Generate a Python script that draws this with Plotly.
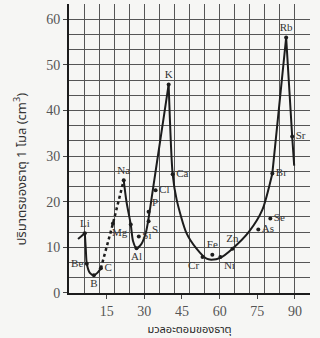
import plotly.graph_objects as go

# --- data (atomic mass, molar volume cm3) ---
tail_x = [3.6, 6.3]
tail_y = [11.8, 13.1]

li_c_x = [6.3, 6.7, 7.1, 8.3, 9.9, 11.3, 12.7]
li_c_y = [13.1, 9.5, 6.4, 4.4, 3.9, 4.4, 5.4]

dot_x = [12.7, 17.5, 21.8]
dot_y = [5.4, 15.2, 24.7]

na_k_x = [21.8, 22.9, 24.6, 25.5, 26.9, 28.8, 30.6, 31.5, 32.3, 33.5, 36.5, 39.7]
na_k_y = [24.7, 20.0, 15.0, 11.4, 9.8, 10.7, 13.2, 15.7, 18.5, 23.0, 34.0, 45.7]

k_br_x = [39.7, 41.3, 42.9, 46.8, 50.8, 54.8, 56.7, 60.3, 65.1, 71.8, 77.0, 81.0]
k_br_y = [45.7, 26.0, 20.4, 13.1, 9.7, 7.5, 7.3, 7.7, 9.7, 13.5, 18.2, 26.2]

br_end_x = [81.0, 86.5, 88.9, 89.7]
br_end_y = [26.2, 56.0, 34.3, 27.9]

el_names = ["Li", "Be", "B", "C", "", "Na", "Mg", "Al", "Si", "P", "S", "Cl", "K", "Ca",
            "Cr", "Fe", "Ni", "Zn", "As", "Se", "Br", "Rb", "Sr"]
el_x = [6.3, 7.1, 9.9, 12.7, 17.5, 21.8, 24.6, 26.9, 27.8, 31.7, 31.7, 34.5, 39.7, 41.3,
        53.2, 57.1, 60.3, 65.1, 75.4, 80.2, 81.0, 86.5, 88.9]
el_y = [13.1, 6.4, 3.9, 5.4, 15.2, 24.7, 15.0, 9.8, 12.4, 17.8, 15.7, 22.5, 45.7, 26.0,
        7.9, 8.4, 7.9, 9.7, 13.9, 16.3, 26.2, 56.0, 34.3]
el_pos = ["top center", "middle left", "bottom center", "middle right", "middle right",
          "top center", "bottom left", "bottom center", "middle right", "top right",
          "bottom right", "middle right", "top center", "middle right",
          "bottom left", "top center", "bottom right", "top center", "middle right",
          "middle right", "middle right", "top center", "middle right"]

x_ticks = [15, 30, 45, 60, 75, 90]
y_ticks = [0, 10, 20, 30, 40, 50, 60]

LINE = dict(color="#1c1c1c", width=2)
SERIF = "Liberation Serif, DejaVu Serif, serif"
THAI = "Noto Sans Thai, Noto Serif Thai, Noto Sans, sans-serif"

fig = go.Figure()
fig.add_trace(go.Scatter(x=tail_x, y=tail_y, mode="lines", line=LINE))
fig.add_trace(go.Scatter(x=li_c_x, y=li_c_y, mode="lines", line=dict(LINE, shape="spline", smoothing=0.8)))
fig.add_trace(go.Scatter(x=dot_x, y=dot_y, mode="lines", line=dict(color="#1c1c1c", width=2.5, dash="dot")))
fig.add_trace(go.Scatter(x=na_k_x, y=na_k_y, mode="lines", line=dict(LINE, shape="spline", smoothing=0.7)))
fig.add_trace(go.Scatter(x=k_br_x, y=k_br_y, mode="lines", line=dict(LINE, shape="spline", smoothing=0.7)))
fig.add_trace(go.Scatter(x=br_end_x, y=br_end_y, mode="lines", line=LINE))
fig.add_trace(go.Scatter(x=el_x, y=el_y, mode="markers+text", text=el_names,
                         textposition=el_pos, cliponaxis=False,
                         marker=dict(color="#1c1c1c", size=4, symbol="circle"),
                         textfont=dict(family=SERIF, size=11, color="#333")))
# overlay axis only for the paper grid every 6 units
fig.add_trace(go.Scatter(x=[0], y=[0], xaxis="x2", mode="markers",
                         marker=dict(opacity=0), hoverinfo="skip"))

fig.update_layout(
    width=320, height=338,
    margin=dict(l=69, r=10, t=4, b=39),
    paper_bgcolor="#f6f6f4", plot_bgcolor="#f6f6f4",
    showlegend=False,
    xaxis=dict(range=[0, 96], tickvals=x_ticks, showgrid=False, zeroline=False,
               showline=True, linecolor="#1c1c1c", linewidth=2,
               ticks="outside", ticklen=4, tickcolor="#444",
               tickfont=dict(family=SERIF, size=14, color="#555"),
               title=dict(text="มวลอะตอมของธาตุ", standoff=8,
                          font=dict(family=THAI, size=11, color="#222"))),
    xaxis2=dict(range=[0, 96], overlaying="x", tick0=0, dtick=6, showgrid=True,
                gridcolor="#555", gridwidth=1, showticklabels=False, zeroline=False,
                ticks=""),
    yaxis=dict(range=[-0.01, 63.34], tickvals=y_ticks, showgrid=True, gridcolor="#555",
               gridwidth=1, zeroline=False, showline=True, linecolor="#1c1c1c", linewidth=2,
               ticks="outside", ticklen=4, tickcolor="#444",
               minor=dict(dtick=10/3, tick0=0, showgrid=True, gridcolor="#555", gridwidth=1),
               tickfont=dict(family=SERIF, size=14, color="#555")),
    annotations=[dict(text="ปริมาตรของธาตุ 1 โมล (cm<sup>3</sup>)", textangle=-90,
                      xref="paper", yref="paper", x=-0.2, y=0.43,
                      xanchor="center", yanchor="middle", showarrow=False,
                      font=dict(family=THAI, size=13, color="#333"))],
)

fig.write_html("out.html")
